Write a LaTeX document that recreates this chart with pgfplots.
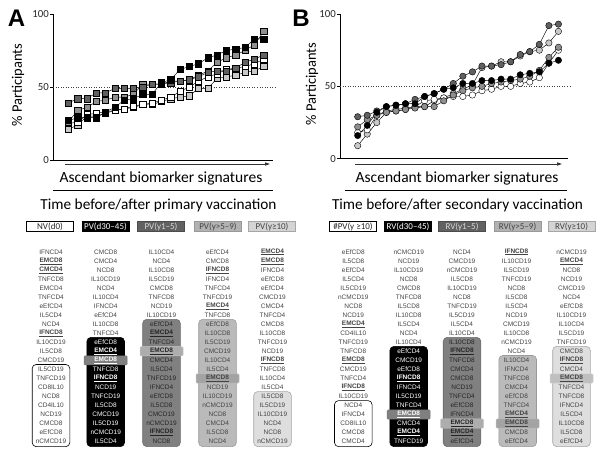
\documentclass[border=0pt]{standalone}
\usepackage{pgfplots}
\usepackage{pgfplotstable}
\pgfplotsset{compat=1.18}
\usetikzlibrary{arrows.meta}
\usepackage{fontspec}
\setmainfont{Carlito}
\newfontfamily\arialf{Liberation Sans}

\definecolor{dkg}{HTML}{606060}
\definecolor{mdg}{HTML}{8F8F8F}
\definecolor{ltg}{HTML}{C8C8C8}
\definecolor{txt}{HTML}{444444}

% ascending signatures, % participants per time point
\pgfplotstableread{
x w k d m l
1 25 27 39 26 21
2 26 29 42 34 24
3 31 29 42 36 30
4 32 29 46 40 30
5 33 33 46 41 32
6 34 36 49 43 34
7 35 41 49 43 35
8 37 42 49 45 36
9 38 45 50 52 38
10 39 45 52 52 38
11 41 53 52 52 40
12 43 55 53 54 42
13 47 62 54 54 43
14 50 64 55 55 44
15 54 66 57 58 49
16 57 70 60 61 49
17 59 72 61 67 56
18 62 75 61 70 57
19 63 76 63 72 58
20 64 77 67 75 60
21 66 83 69 79 61
22 69 83 72 88 64
}\primary

\pgfplotstableread{
x w k d m l
1 18 16 29 22 9
2 20 23 30 27 17
3 30 32 33 30 25
4 33 36 36 32 32
5 34 37 37 33 33
6 35 38 38 34 34
7 36 38 41 35 36
8 40 43 43 36 36
9 41 45 45 36 40
10 42 48 48 40 42
11 43 49 52 44 45
12 43 52 57 47 48
13 44 52 60 49 51
14 47 54 64 50 63
15 48 54 64 52 64
16 50 55 65 53 67
17 50 55 67 54 67
18 52 58 72 55 71
19 53 59 74 57 74
20 56 60 79 61 75
21 66 66 92 70 80
22 75 68 93 77 88
}\secondary

\pgfplotsset{
  panel/.style={
    scale only axis, clip=false,
    ymin=0, ymax=100, ytick={0,50,100}, xtick=\empty,
    axis x line*=bottom, axis y line*=left,
    axis line style={-, line width=0.6pt},
    tick align=outside, major tick length=3pt,
    tick style={black, line width=0.6pt},
    /pgf/number format/assume math mode=true,
    yticklabel style={font=\fontsize{10.8}{12}\selectfont, inner sep=1pt, text=black!85},
  },
  ser/.style={black, line width=0.45pt, mark options={solid, fill=#1, draw=black, line width=0.4pt}},
}

\newcommand\bu[1]{{\bfseries\underline{#1}}}
% column of signatures: x, first index inside the box, colour there, list
\newcommand\col[4]{%
  \foreach \t [count=\i from 0] in {#4} {%
    \ifnum\i<#2 \def\cc{txt}\else\def\cc{#3}\fi
    \node[text=\cc, font=\arialf\fontsize{6.5}{7}\selectfont, inner sep=0] at (#1, 206-9.03*\i) {\t};}}
\newcommand\reg[4]{%
  \draw[rounded corners=4pt, fill=#3, draw=#4, line width=0.6pt]
    (#1-18.8, 206-9.03*#2+4.9) rectangle (#1+18.8, 206-9.03*21-5);}
\newcommand\hl[4]{%
  \draw[rounded corners=1pt, fill=#3, draw=#4, line width=0.5pt]
    (#1-21.5, 206-9.03*#2+4.6) rectangle (#1+21.5, 206-9.03*#2-4.6);}
\newcommand\hdr[5]{%
  \node[draw=#4, fill=#3, text=#5, line width=0.5pt, minimum width=47pt, minimum height=9.8pt, inner sep=0,
    font=\fontsize{9}{10}\selectfont] at (#1, 458-226.5) {#2};}

\begin{document}
\begin{tikzpicture}[x=1pt, y=1pt]
\path[use as bounding box] (0,0) rectangle (600,458);

% ---------------- panel A ----------------
\begin{axis}[panel, at={(53pt,298pt)}, anchor=south west, width=220pt, height=146pt,
  xmin=-0.65, xmax=23]
  \draw[dotted, line width=0.55pt, black!75] (axis cs:-0.65,50) -- (axis cs:23.45,50);
  \addplot[ser=ltg, mark=square*, mark size=3.1pt] table[x=x, y=l] {\primary};
  \addplot[ser=white, mark=square*, mark size=3.1pt] table[x=x, y=w] {\primary};
  \addplot[ser=mdg, mark=square*, mark size=3.1pt] table[x=x, y=m] {\primary};
  \addplot[ser=dkg, mark=square*, mark size=3.1pt] table[x=x, y=d] {\primary};
  \addplot[ser=black, mark=square*, mark size=3.1pt] table[x=x, y=k] {\primary};
\end{axis}

% ---------------- panel B ----------------
\begin{axis}[panel, at={(340pt,299.3pt)}, anchor=south west, width=228pt, height=144.7pt,
  xmin=-0.85, xmax=23]
  \draw[dotted, line width=0.55pt, black!75] (axis cs:-0.85,50) -- (axis cs:23.4,50);
  \addplot[ser=ltg, mark=*, mark size=3.2pt] table[x=x, y=l] {\secondary};
  \addplot[ser=white, mark=*, mark size=3.2pt] table[x=x, y=w] {\secondary};
  \addplot[ser=mdg, mark=*, mark size=3.2pt] table[x=x, y=m] {\secondary};
  \addplot[ser=dkg, mark=*, mark size=3.2pt] table[x=x, y=d] {\secondary};
  \addplot[ser=black, mark=*, mark size=3.2pt] table[x=x, y=k] {\secondary};
\end{axis}

% panel letters and labels
\node[font=\arialf\bfseries\fontsize{24}{26}\selectfont, inner sep=0] at (16.5,458-18.5) {A};
\node[font=\arialf\bfseries\fontsize{24}{26}\selectfont, inner sep=0] at (301,458-18.5) {B};
\node[rotate=90, font=\fontsize{14.5}{16}\selectfont, inner sep=0] at (18,458-85) {\% Participants};
\node[rotate=90, font=\fontsize{14.5}{16}\selectfont, inner sep=0] at (312,458-84) {\% Participants};

\draw[-{Triangle[length=5pt, width=3.2pt]}, line width=0.8pt, black!80] (65,458-164) -- (270,458-164);
\draw[-{Triangle[length=5pt, width=3.2pt]}, line width=0.8pt, black!80] (355,458-164) -- (562,458-164);
\node[font=\fontsize{15.5}{17}\selectfont, inner sep=0] at (161,458-178) {Ascendant biomarker signatures};
\node[font=\fontsize{15.5}{17}\selectfont, inner sep=0] at (457,458-178) {Ascendant biomarker signatures};
\draw[line width=1pt] (53,458-190.5) -- (273,458-190.5);
\draw[line width=1pt] (345,458-190.5) -- (567,458-190.5);
\node[font=\fontsize{15.3}{17}\selectfont, inner sep=0] at (158.5,458-205.5) {Time before/after primary vaccination};
\node[font=\fontsize{15.3}{17}\selectfont, inner sep=0] at (457.5,458-205.5) {Time before/after secondary vaccination};

% header boxes
\hdr{50}{NV(d0)}{white}{black}{black!85}
\hdr{105.5}{PV(d30--45)}{black}{black}{white}
\hdr{161}{PV(y1--5)}{black!62}{black!70}{white!85!black}
\hdr{218}{PV(y>5--9)}{black!30}{black!40}{txt}
\hdr{272}{PV(y≥10)}{black!17}{black!35}{txt}
\hdr{353}{\#PV(y ≥10)}{white}{black}{black!85}
\hdr{408}{RV(d30--45)}{black}{black}{white}
\hdr{462}{RV(y1--5)}{black!62}{black!70}{white!85!black}
\hdr{517.5}{RV(y>5--9)}{black!30}{black!40}{txt}
\hdr{571.5}{RV(y≥10)}{black!17}{black!35}{txt}

% shaded groups
\reg{51}{13}{white}{black}
\reg{105.7}{10}{black}{black}
\hl{105.7}{12}{black!50}{black!55}
\reg{161.5}{8}{black!50}{black!58}
\hl{161.5}{11}{black!32}{black!22}
\reg{217.5}{8}{black!27}{black!40}
\hl{217.5}{14}{black!36}{black!25}
\reg{272.5}{16}{black!13}{black!35}

\reg{353.3}{17}{white}{black}
\reg{408.7}{11}{black}{black}
\hl{408.7}{18}{black!50}{black!55}
\reg{462}{10}{black!50}{black!58}
\hl{462}{19}{black!32}{black!22}
\reg{517.7}{12}{black!27}{black!40}
\hl{517.7}{19}{black!36}{black!25}
\reg{571.5}{11}{black!13}{black!35}
\hl{571.5}{14}{black!25}{black!18}

% signature lists
\col{51}{99}{txt}{IFNCD4,\bu{EMCD8},\bu{CMCD4},TNFCD8,EMCD4,TNFCD4,eEfCD4,IL5CD4,NCD4,\bu{IFNCD8},IL10CD19,IL5CD8,CMCD19,IL5CD19,TNFCD19,CD8IL10,NCD8,CD4IL10,NCD19,CMCD8,eEfCD8,nCMCD19}
\col{105.7}{10}{white}{CMCD8,CMCD4,NCD8,IL10CD19,NCD4,IL10CD4,IFNCD4,eEfCD4,IL10CD8,TNFCD4,eEfCD8,\bu{EMCD4},\bu{EMCD8},TNFCD8,\bu{IFNCD8},NCD19,TNFCD19,IL5CD8,CMCD19,IL5CD19,nCMCD19,IL5CD4}
\col{161.5}{8}{black!85}{IL10CD4,NCD4,IL10CD8,IL5CD19,CMCD8,TNFCD8,NCD19,IL10CD19,eEfCD4,\bu{EMCD4},TNFCD4,\bu{EMCD8},CMCD4,IL5CD4,TNFCD19,IFNCD4,eEfCD8,IL5CD8,CMCD19,nCMCD19,\bu{IFNCD8},NCD8}
\col{217.5}{8}{txt}{eEfCD4,CMCD8,\bu{IFNCD8},IFNCD4,TNFCD4,TNFCD19,\bu{EMCD4},TNFCD8,eEfCD8,IL10CD8,IL5CD19,CMCD19,IL10CD4,IL5CD4,\bu{EMCD8},NCD19,IL10CD19,nCMCD19,NCD8,CMCD4,IL5CD8,NCD4}
\col{272.5}{16}{txt}{\bu{EMCD4},\bu{EMCD8},IFNCD4,eEfCD8,eEfCD4,CMCD19,CMCD4,TNFCD4,CMCD8,IL10CD8,TNFCD19,NCD19,\bu{IFNCD8},TNFCD8,IL10CD4,IL5CD4,IL5CD8,IL5CD19,IL10CD19,NCD4,NCD8,nCMCD19}

\col{353.3}{99}{txt}{eEfCD8,IL5CD8,eEfCD4,IL5CD4,IL5CD19,nCMCD19,NCD8,NCD19,\bu{EMCD4},CD4IL10,TNFCD19,TNFCD8,\bu{EMCD8},CMCD19,TNFCD4,\bu{IFNCD8},IL10CD19,NCD4,IFNCD4,CD8IL10,CMCD8,CMCD4}
\col{408.7}{11}{white}{nCMCD19,NCD19,IL10CD19,NCD8,CMCD8,TNFCD8,IL5CD8,IL10CD8,IL5CD4,NCD4,IL10CD4,eEfCD4,CMCD19,eEfCD8,\bu{IFNCD8},IFNCD4,IL5CD19,TNFCD4,\bu{EMCD8},CMCD4,\bu{EMCD4},TNFCD19}
\col{462}{10}{black!85}{NCD4,CMCD19,nCMCD19,IL5CD8,IL10CD19,NCD8,TNFCD19,IL5CD19,IL5CD4,IL10CD4,IL10CD8,\bu{IFNCD8},TNFCD8,CMCD4,CMCD8,NCD19,TNFCD4,eEfCD8,IFNCD4,\bu{EMCD8},\bu{EMCD4},eEfCD4}
\col{516.5}{12}{txt}{\bu{IFNCD8},IL10CD19,IL5CD19,TNFCD19,NCD8,IL5CD8,IL5CD4,NCD19,CMCD19,IL10CD8,nCMCD19,NCD4,IL10CD4,IFNCD4,TNFCD8,CMCD4,eEfCD8,TNFCD4,\bu{EMCD4},\bu{EMCD8},CMCD8,eEfCD4}
\col{571.5}{11}{txt}{nCMCD19,\bu{EMCD4},NCD8,NCD19,CMCD19,NCD4,eEfCD8,IL10CD19,IL10CD4,IL5CD19,TNFCD19,CMCD8,\bu{IFNCD8},CMCD4,\bu{EMCD8},TNFCD4,TNFCD8,IFNCD4,IL5CD4,IL10CD8,IL5CD8,eEfCD4}
\end{tikzpicture}
\end{document}
